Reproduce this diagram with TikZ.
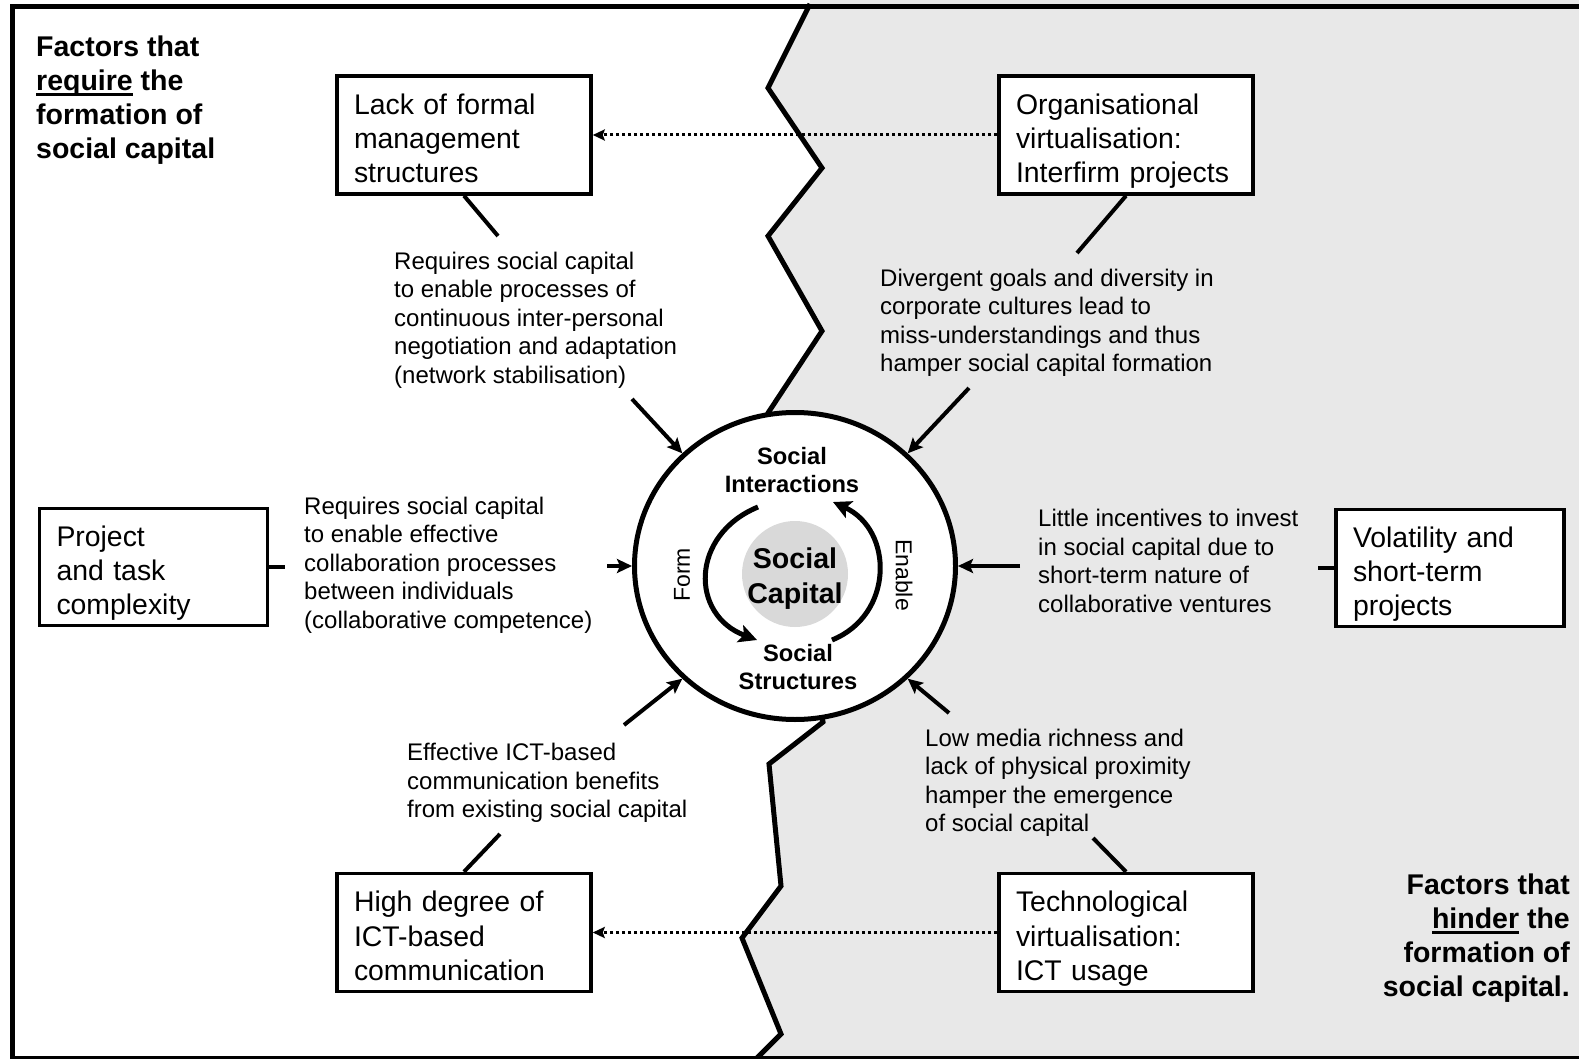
\documentclass[tikz,border=0pt]{standalone}
\usepackage{fontspec}
\setmainfont{Liberation Sans}
\usetikzlibrary{arrows.meta,shapes.geometric}
\definecolor{paneshade}{HTML}{E8E8E8}
\definecolor{coreshade}{HTML}{D9D9D9}
% underline with a heavier rule
\newcommand\heavyul[1]{\setbox0\hbox{#1}\rlap{\rule[-5.5pt]{\wd0}{2.8pt}}\box0{}}
% struts that fix the height of the first and depth of the last box line
\newcommand\firststrut{\rule{0pt}{33pt}}
\newcommand\laststrut{\rule[-6pt]{0pt}{6pt}}
\begin{document}
\begin{tikzpicture}[x=1pt,y=-1pt,
  bigbox/.style={draw,line width=3.5pt,fill=white,align=left,inner xsep=17pt,inner ysep=0pt,
    minimum width=254pt,minimum height=118pt,text width=220pt,
    font=\fontsize{28.4}{34.2}\selectfont},
  smallbox/.style={bigbox,minimum width=228pt,minimum height=117pt,text width=194pt},
  lbl/.style={align=left,anchor=west,inner sep=0pt,font=\fontsize{24}{28.5}\selectfont},
  corner/.style={inner sep=0pt,font=\fontsize{28.5}{34}\selectfont\bfseries},
  link/.style={line width=4pt},
  push/.style={line width=4pt,-{Stealth[length=15pt,width=14pt,inset=3pt]}},
  dotarrow/.style={line width=3pt,dash pattern=on 3pt off 3pt,-{Stealth[length=12pt,width=11pt,inset=2pt]}},
  loopline/.style={line width=5pt,-{Stealth[length=18pt,width=18pt,inset=4pt]}},
]
\useasboundingbox (0,0) rectangle (1579,1059);

% shaded right half behind the zigzag border
\fill[paneshade] (810,0) -- (810,4) -- (768,88) -- (822,168) -- (768,236) -- (822,331) -- (768,413)
  -- (823,722) -- (769,764) -- (781,886) -- (742,938) -- (781,1034) -- (755,1059)
  -- (1579,1059) -- (1579,0) -- cycle;

% zigzag divider
\draw[line width=5pt] (810,4) -- (768,88) -- (822,168) -- (768,236) -- (822,331) -- (768,413)
  -- (823,722) -- (769,764) -- (781,886) -- (742,938) -- (781,1034) -- (753,1062);

% frame
\draw[line width=5pt] (12.5,1059) -- (12.5,6.5) -- (1579,6.5);
\draw[line width=3pt] (10,1057.5) -- (1579,1057.5);

% central circle
\node[ellipse,draw,line width=5pt,fill=white,minimum width=321pt,minimum height=307pt,inner sep=0pt]
  (circ) at (795,566) {};
\node[circle,fill=coreshade,minimum size=106pt,inner sep=0pt] (core) at (795,574) {};

\node[inner sep=0pt,align=center,font=\fontsize{23.7}{28}\selectfont\bfseries] (inter) at (792,470) {Social\\Interactions};
\node[inner sep=0pt,align=center,font=\fontsize{28.6}{35}\selectfont\bfseries] (cap) at (795,579) {Social\\Capital};
\node[inner sep=0pt,align=center,font=\fontsize{23.7}{28}\selectfont\bfseries] (struct) at (798,667) {Social\\Structures};
\node[inner sep=0pt,rotate=90,font=\fontsize{23}{28}\selectfont] (form) at (682,575) {Form};
\node[inner sep=0pt,rotate=-90,font=\fontsize{23}{28}\selectfont] (enable) at (904,575) {Enable};

\coordinate (formA) at (758,507);
\coordinate (formB) at (757,640);
\coordinate (enA) at (832,640);
\coordinate (enB) at (833,502);
\draw[loopline] (formA) .. controls (690,535) and (690,615) .. (formB);
\draw[loopline] (enA) .. controls (894,615) and (894,530) .. (enB);

% factor boxes
\node[bigbox] (b1) at (464,135) {\firststrut Lack of formal\\management\\structures\laststrut};
\node[bigbox] (b2) at (1126,135) {\firststrut Organisational\\virtualisation:\\Interfirm projects\laststrut};
\node[smallbox] (b3) at (153.5,567) {\firststrut Project\\and task\\complexity\laststrut};
\node[smallbox] (b4) at (1450,568) {\firststrut Volatility and\\short-term\\projects\laststrut};
\node[bigbox] (b5) at (464,932.5) {\firststrut High degree of\\ICT-based\\communication\laststrut};
\node[bigbox] (b6) at (1126,932.5) {\firststrut Technological\\virtualisation:\\ICT usage\laststrut};

% dotted influence arrows
\draw[dotarrow] (b2.west) -- (b1.east);
\draw[dotarrow] (b6.west) -- (b5.east);

% explanations
\node[lbl] (t1) at (394,320) {Requires social capital\\to enable processes of\\continuous inter-personal\\negotiation and adaptation\\(network stabilisation)};
\node[lbl] (t2) at (880,323) {Divergent goals and diversity in\\corporate cultures lead to\\miss-understandings and thus\\hamper social capital formation};
\node[lbl] (t3) at (304,565) {Requires social capital\\to enable effective\\collaboration processes\\between individuals\\(collaborative competence)};
\node[lbl] (t4) at (1038,561) {Little incentives to invest\\in social capital due to\\short-term nature of\\collaborative ventures};
\node[lbl] (t5) at (407,783) {Effective ICT-based\\communication benefits\\from existing social capital};
\node[lbl] (t6) at (925,783) {Low media richness and\\lack of physical proximity\\hamper the emergence\\of social capital};

% box to explanation links
\coordinate (l1) at (498,236);
\coordinate (l2) at (1077,253);
\coordinate (l3) at (285,567);
\coordinate (l4) at (1318,568);
\coordinate (l5) at (500,834);
\coordinate (l6) at (1093,838);
\draw[link] (b1.south) -- (l1);
\draw[link] (b2.south) -- (l2);
\draw[link] (b3.east) -- (l3);
\draw[link] (b4.west) -- (l4);
\draw[link] (b5.north) -- (l5);
\draw[link] (b6.north) -- (l6);

% explanation to circle arrows
\coordinate (p1) at (632,399);
\coordinate (p2) at (969,388);
\coordinate (p3) at (607,566);
\coordinate (p4) at (1020,566);
\coordinate (p5) at (624,725);
\coordinate (p6) at (949,713);
\draw[push] (p1) -- (circ.135);
\draw[push] (p2) -- (circ.45);
\draw[push] (p3) -- (circ.west);
\draw[push] (p4) -- (circ.east);
\draw[push] (p5) -- (circ.225);
\draw[push] (p6) -- (circ.315);

% corner captions
\node[corner,align=left,anchor=west] (req) at (36,100) {Factors that\\\heavyul{require} the\\formation of\\social capital};
\node[corner,align=right,anchor=east] (hin) at (1570,938) {Factors that\\\heavyul{hinder} the\\formation of\\social capital.};
\end{tikzpicture}
\end{document}
